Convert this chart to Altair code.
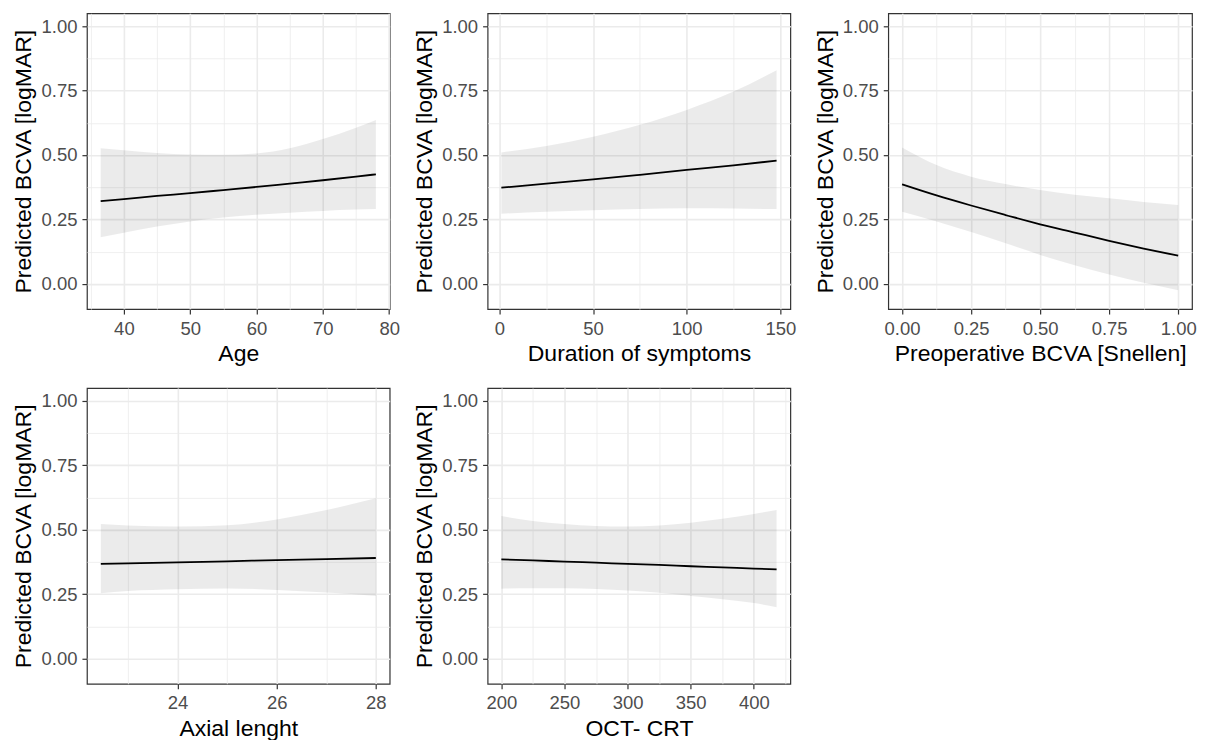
import json
import altair as alt
import pandas as pd

FONT = "Liberation Sans"

# ---------------- data ----------------
age_x = [36.5, 40, 45, 50, 55, 60, 65, 70, 75, 78]
age_fit = [0.321, 0.329, 0.341, 0.352, 0.364, 0.376, 0.389, 0.402, 0.416, 0.425]
age_lo = [0.181, 0.198, 0.222, 0.242, 0.257, 0.268, 0.276, 0.283, 0.288, 0.290]
age_hi = [0.526, 0.518, 0.508, 0.502, 0.501, 0.506, 0.526, 0.562, 0.606, 0.636]

dur_x = [1, 25, 50, 75, 100, 125, 148]
dur_fit = [0.373, 0.389, 0.405, 0.423, 0.442, 0.460, 0.478]
dur_lo = [0.272, 0.280, 0.286, 0.290, 0.293, 0.292, 0.290]
dur_hi = [0.510, 0.535, 0.571, 0.617, 0.675, 0.746, 0.829]

snel_x = [0, 0.125, 0.25, 0.375, 0.5, 0.625, 0.75, 0.875, 1.0]
snel_fit = [0.386, 0.343, 0.304, 0.267, 0.231, 0.199, 0.167, 0.137, 0.109]
snel_lo = [0.280, 0.242, 0.201, 0.157, 0.112, 0.072, 0.036, 0.004, -0.025]
snel_hi = [0.529, 0.461, 0.416, 0.387, 0.364, 0.346, 0.332, 0.318, 0.306]

axl_x = [22.45, 23, 24, 25, 26, 27, 28]
axl_fit = [0.367, 0.369, 0.373, 0.377, 0.382, 0.386, 0.390]
axl_lo = [0.253, 0.262, 0.269, 0.272, 0.266, 0.256, 0.243]
axl_hi = [0.522, 0.516, 0.512, 0.517, 0.540, 0.576, 0.622]

oct_x = [200, 225, 250, 275, 300, 325, 350, 375, 400, 418]
oct_fit = [0.385, 0.381, 0.376, 0.372, 0.367, 0.363, 0.358, 0.354, 0.349, 0.346]
oct_lo = [0.271, 0.273, 0.273, 0.270, 0.264, 0.255, 0.243, 0.230, 0.215, 0.199]
oct_hi = [0.553, 0.534, 0.522, 0.514, 0.512, 0.516, 0.527, 0.542, 0.561, 0.576]

Y_TITLE = "Predicted BCVA [logMAR]"
Y_DOMAIN = [-0.098, 1.05]
Y_MAJOR = [0, 0.25, 0.5, 0.75, 1.0]
Y_MINOR = [0.125, 0.375, 0.625, 0.875]


def make_axis(majors, minors, fmt, title):
    vals = sorted(majors + minors)
    test = f"indexof({json.dumps(minors)}, datum.value) >= 0"
    return alt.Axis(
        values=vals,
        title=title,
        format=fmt,
        labelExpr=f"({test}) ? '' : datum.label",
        gridWidth={"condition": {"test": test, "value": 0.8}, "value": 1.6},
        tickOpacity={"condition": {"test": test, "value": 0}, "value": 1},
    )


def panel(xs, fit, lo, hi, xdom, xmaj, xmin, xfmt, xtitle, w, h):
    df = pd.DataFrame({"x": xs, "fit": fit, "lo": lo, "hi": hi})
    xs_ = alt.Scale(domain=xdom, nice=False, zero=False)
    ys_ = alt.Scale(domain=Y_DOMAIN, nice=False, zero=False)
    xax = make_axis(xmaj, xmin, xfmt, xtitle)
    yax = make_axis(Y_MAJOR, Y_MINOR, ".2f", Y_TITLE)
    band = alt.Chart(df).mark_area(
        color="#000000", opacity=0.08, interpolate="monotone"
    ).encode(
        x=alt.X("x:Q", scale=xs_, axis=xax),
        y=alt.Y("lo:Q", scale=ys_, axis=yax),
        y2="hi:Q",
    )
    line = alt.Chart(df).mark_line(
        color="#000000", strokeWidth=1.8, interpolate="monotone"
    ).encode(
        x=alt.X("x:Q", scale=xs_, axis=xax),
        y=alt.Y("fit:Q", scale=ys_, axis=yax),
    )
    return alt.layer(band, line).properties(width=w, height=h)


p1 = panel(age_x, age_fit, age_lo, age_hi, [34.43, 80.08],
           [40, 50, 60, 70, 80], [35, 45, 55, 65, 75], "d", "Age", 303, 296)
p2 = panel(dur_x, dur_fit, dur_lo, dur_hi, [-6.35, 155.35],
           [0, 50, 100, 150], [25, 75, 125], "d", "Duration of symptoms", 303, 296)
p3 = panel(snel_x, snel_fit, snel_lo, snel_hi, [-0.05, 1.05],
           [0, 0.25, 0.5, 0.75, 1.0], [0.125, 0.375, 0.625, 0.875], ".2f",
           "Preoperative BCVA [Snellen]", 304, 296)
p4 = panel(axl_x, axl_fit, axl_lo, axl_hi, [22.17, 28.28],
           [24, 26, 28], [23, 25, 27], "d", "Axial lenght", 303, 296)
p5 = panel(oct_x, oct_fit, oct_lo, oct_hi, [189.1, 428.9],
           [200, 250, 300, 350, 400], [225, 275, 325, 375, 425], "d", "OCT- CRT", 303, 296)

chart = alt.concat(
    p1, p2, p3, p4, p5, columns=3,
    spacing={"row": 79, "column": 98}, bounds="flush",
).properties(
    padding={"left": 4, "top": 4, "right": 0, "bottom": 0},
    background="#FFFFFF",
).configure_view(
    stroke="#333333", strokeWidth=1.2
).configure_axis(
    domain=False,
    labelFont=FONT, titleFont=FONT,
    labelFontSize=18.5, titleFontSize=23,
    labelColor="#4D4D4D", titleColor="#000000",
    titleFontWeight="normal",
    tickColor="#333333", tickWidth=1.2, tickSize=5,
    gridColor="#EBEBEB",
    labelOverlap=False, labelFlush=False,
).configure_axisX(
    labelPadding=5, titlePadding=5,
).configure_axisY(
    labelPadding=5, titlePadding=5,
)

chart.save("out.html", embed_options={"renderer": "svg", "actions": False})
